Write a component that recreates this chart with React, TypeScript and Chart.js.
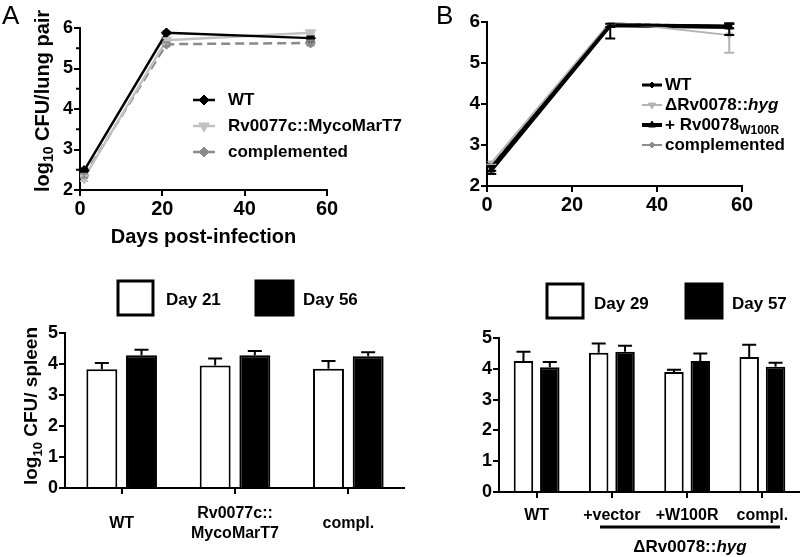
import React, { useEffect, useRef } from "react";
import { Chart, registerables } from "chart.js";
import { drawPoint } from "chart.js/helpers";

Chart.register(...registerables);

const FAMILY = "'Liberation Sans', Arial, Helvetica, sans-serif";

// ---------- Panel A (lung, line) ----------
const daysA = [1, 21, 56];
const wtA = [2.48, 5.88, 5.75];
const rv0077A = [2.3, 5.7, 5.88];
const complA = [2.35, 5.6, 5.63];
const wtAErr = [0.05, 0.03, 0.06];
const rv0077AErr = [0.08, 0.05, 0.04];
const complAErr = [0.05, 0.05, 0.06];
const xTicksLine = [0, 20, 40, 60];

// ---------- Panel B (lung, line) ----------
const daysB = [1, 29, 57];
const wtB = [2.45, 5.93, 5.9];
const rv0078B = [2.56, 6.0, 5.68];
const w100rB = [2.39, 5.92, 5.88];
const complB = [2.5, 5.96, 5.9];
const wtBLo = [0.08, 0.33, 0.05];
const wtBHi = [0.08, 0, 0.05];
const rv0078BLo = [0.04, 0.05, 0.43];
const w100rBLo = [0.1, 0.04, 0.2];
const w100rBHi = [0.1, 0.04, 0.09];

// ---------- Panel A (spleen, bar) ----------
const barCatsA = ["WT", ["Rv0077c::", "MycoMarT7"], "compl."];
const day21A = [3.83, 3.95, 3.85];
const day21AErr = [0.2, 0.23, 0.25];
const day56A = [4.28, 4.28, 4.25];
const day56AErr = [0.18, 0.14, 0.13];

// ---------- Panel B (spleen, bar) ----------
const barCatsB = ["WT", "+vector", "+W100R", "compl."];
const day29B = [4.25, 4.52, 3.9, 4.38];
const day29BErr = [0.3, 0.3, 0.07, 0.4];
const day57B = [4.05, 4.55, 4.25, 4.07];
const day57BErr = [0.17, 0.2, 0.25, 0.13];

type Seg = { t: string; sub?: boolean; italic?: boolean };

function segFont(s: Seg, size: number, bold: boolean) {
  const sz = s.sub ? Math.round(size * 0.68) : size;
  return `${s.italic ? "italic " : ""}${bold ? "bold " : ""}${sz}px ${FAMILY}`;
}

function drawRich(
  ctx: CanvasRenderingContext2D,
  segs: Seg[],
  x: number,
  y: number,
  size: number,
  opts: { align?: string; rotate?: boolean; bold?: boolean; color?: string } = {}
) {
  const { align = "left", rotate = false, bold = true, color = "#000" } = opts;
  ctx.save();
  ctx.fillStyle = color;
  ctx.textBaseline = "middle";
  ctx.textAlign = "left";
  let total = 0;
  const widths = segs.map((s) => {
    ctx.font = segFont(s, size, bold);
    const w = ctx.measureText(s.t).width;
    total += w;
    return w;
  });
  ctx.translate(x, y);
  if (rotate) ctx.rotate(-Math.PI / 2);
  let cx = align === "center" ? -total / 2 : align === "right" ? -total : 0;
  segs.forEach((s, i) => {
    ctx.font = segFont(s, size, bold);
    ctx.fillText(s.t, cx, s.sub ? size * 0.32 : 0);
    cx += widths[i];
  });
  ctx.restore();
}

const errorBarPlugin = {
  id: "errorBars",
  afterDatasetsDraw(chart: any) {
    const ctx = chart.ctx;
    const yScale = chart.scales.y;
    chart.data.datasets.forEach((ds: any, i: number) => {
      if (!ds.errHi && !ds.errLo) return;
      const meta = chart.getDatasetMeta(i);
      ctx.save();
      ctx.strokeStyle = ds.errColor || ds.borderColor;
      ctx.lineWidth = ds.errWidth || 2;
      meta.data.forEach((el: any, j: number) => {
        const raw = ds.data[j];
        const v = typeof raw === "number" ? raw : raw.y;
        const x = el.x;
        const cap = ds.errCap ?? 6;
        const ends: number[] = [];
        if (ds.errHi && ds.errHi[j]) ends.push(v + ds.errHi[j]);
        if (ds.errLo && ds.errLo[j]) ends.push(v - ds.errLo[j]);
        const y0 = yScale.getPixelForValue(v);
        ends.forEach((ev) => {
          const y1 = yScale.getPixelForValue(ev);
          ctx.beginPath();
          ctx.moveTo(x, y0);
          ctx.lineTo(x, y1);
          ctx.moveTo(x - cap, y1);
          ctx.lineTo(x + cap, y1);
          ctx.stroke();
        });
      });
      ctx.restore();
    });
  },
};

function overlay(id: string, draw: (chart: any, ctx: CanvasRenderingContext2D) => void) {
  return {
    id,
    afterDraw(chart: any) {
      draw(chart, chart.ctx);
    },
  };
}

function lineLegend(items: Seg[][], x: number, y0: number, dy: number, len: number, gap: number, size: number) {
  return overlay("lineLegend", (chart, ctx) => {
    items.forEach((segs, i) => {
      const ds: any = chart.data.datasets[i];
      const y = y0 + i * dy;
      ctx.save();
      ctx.strokeStyle = ds.borderColor;
      ctx.lineWidth = ds.borderWidth;
      ctx.beginPath();
      ctx.moveTo(x, y);
      ctx.lineTo(x + len, y);
      ctx.stroke();
      ctx.fillStyle = ds.pointBackgroundColor;
      ctx.strokeStyle = ds.pointBorderColor;
      ctx.lineWidth = 1;
      drawPoint(
        ctx,
        { pointStyle: ds.pointStyle, rotation: ds.pointRotation || 0, radius: ds.pointRadius, borderWidth: 1 } as any,
        x + len / 2,
        y
      );
      ctx.restore();
      drawRich(ctx, segs, x + len + gap, y, size);
    });
  });
}

function boxLegend(boxes: { x: number; y: number; w: number; h: number; tx: number; ty: number; text: string }[], size: number) {
  return overlay("boxLegend", (chart, ctx) => {
    boxes.forEach((b, i) => {
      const ds: any = chart.data.datasets[i];
      ctx.save();
      ctx.fillStyle = ds.backgroundColor;
      ctx.fillRect(b.x, b.y, b.w, b.h);
      ctx.strokeStyle = ds.borderColor;
      ctx.lineWidth = 3;
      ctx.strokeRect(b.x, b.y, b.w, b.h);
      ctx.restore();
      drawRich(ctx, [{ t: b.text }], b.tx, b.ty, size);
    });
  });
}

function minorTicks(step: number, len: number) {
  return overlay("minorTicks", (chart, ctx) => {
    const y = chart.scales.y;
    const left = chart.chartArea.left;
    ctx.save();
    ctx.strokeStyle = "#000";
    ctx.lineWidth = 2;
    for (let v = y.min + step; v < y.max; v += step) {
      if (Math.abs(v - Math.round(v)) < 1e-6) continue;
      const py = y.getPixelForValue(v);
      ctx.beginPath();
      ctx.moveTo(left - len, py);
      ctx.lineTo(left, py);
      ctx.stroke();
    }
    ctx.restore();
  });
}

function axis(fontSize: number, padding: number) {
  return {
    border: { display: true, color: "#000", width: 2 },
    grid: { display: true, drawOnChartArea: false, drawTicks: true, tickLength: 6, color: "#000", lineWidth: 2 },
    ticks: { color: "#000", padding, font: { family: FAMILY, size: fontSize, weight: "bold" } },
  };
}

function pts(xs: number[], ys: number[]) {
  return xs.map((x, i) => ({ x, y: ys[i] }));
}

function lineDs(label: string, data: any, color: string, width: number, style: string, radius: number, extra: any = {}) {
  return {
    label,
    data,
    borderColor: color,
    backgroundColor: color,
    borderWidth: width,
    pointStyle: style,
    pointRadius: radius,
    pointBackgroundColor: color,
    pointBorderColor: color,
    pointBorderWidth: 1,
    tension: 0,
    fill: false,
    ...extra,
  };
}

function makeLineA(canvas: HTMLCanvasElement) {
  return new Chart(canvas, {
    type: "line",
    data: {
      datasets: [
        lineDs("WT", pts(daysA, wtA), "#000000", 2.5, "rectRot", 5, { errHi: wtAErr, errLo: wtAErr, errCap: 4 }),
        lineDs("Rv0077c::MycoMarT7", pts(daysA, rv0077A), "#c2c2c2", 2.5, "triangle", 6, {
          pointRotation: 180,
          errHi: rv0077AErr,
          errLo: rv0077AErr,
          errCap: 4,
        }),
        lineDs("complemented", pts(daysA, complA), "#8a8a8a", 2.5, "rectRot", 5, {
          borderDash: [9, 5],
          errHi: complAErr,
          errLo: complAErr,
          errCap: 4,
        }),
      ] as any,
    },
    options: {
      animation: false,
      responsive: false,
      layout: { padding: { left: 0, top: 28, right: 93, bottom: 0 } },
      scales: {
        x: {
          type: "linear",
          min: 0,
          max: 60,
          ...axis(20, 1),
          ticks: { ...axis(20, 1).ticks, stepSize: 20, callback: (v: any) => (xTicksLine.includes(v) ? String(v) : "") },
          title: {
            display: true,
            text: "Days post-infection",
            color: "#000",
            font: { family: FAMILY, size: 20, weight: "bold" },
            padding: { top: 0, bottom: 1 },
          },
          afterFit: (s: any) => {
            s.height = 60;
          },
        },
        y: {
          min: 2,
          max: 6,
          ...axis(18, 1),
          ticks: { ...axis(18, 1).ticks, stepSize: 1 },
          afterFit: (s: any) => {
            s.width = 80;
          },
        },
      } as any,
      plugins: { legend: { display: false }, tooltip: { enabled: false } },
    },
    plugins: [
      errorBarPlugin,
      minorTicks(0.5, 4),
      lineLegend(
        [[{ t: "WT" }], [{ t: "Rv0077c::MycoMarT7" }], [{ t: "complemented" }]],
        193,
        100,
        26,
        22,
        13,
        17
      ),
      overlay("textsA", (chart, ctx) => {
        drawRich(ctx, [{ t: "A" }], 2, 17, 26, { bold: false });
        drawRich(ctx, [{ t: "log" }, { t: "10", sub: true }, { t: " CFU/lung pair" }], 43, 101, 20, {
          align: "center",
          rotate: true,
        });
      }),
    ] as any,
  });
}

function makeLineB(canvas: HTMLCanvasElement) {
  return new Chart(canvas, {
    type: "line",
    data: {
      datasets: [
        lineDs("WT", pts(daysB, wtB), "#000000", 3, "rectRot", 3, { errHi: wtBHi, errLo: wtBLo, errCap: 5 }),
        lineDs("ΔRv0078::hyg", pts(daysB, rv0078B), "#b3b3b3", 2, "triangle", 4, {
          pointRotation: 180,
          errLo: rv0078BLo,
          errCap: 5,
        }),
        lineDs("+ Rv0078W100R", pts(daysB, w100rB), "#000000", 4, "triangle", 4, {
          errHi: w100rBHi,
          errLo: w100rBLo,
          errCap: 5,
        }),
        lineDs("complemented", pts(daysB, complB), "#8c8c8c", 2, "rectRot", 3, { borderDash: [6, 4] }),
      ] as any,
    },
    options: {
      animation: false,
      responsive: false,
      layout: { padding: { left: 0, top: 22, right: 58, bottom: 0 } },
      scales: {
        x: {
          type: "linear",
          min: 0,
          max: 60,
          ...axis(20, 1),
          ticks: { ...axis(20, 1).ticks, stepSize: 20, callback: (v: any) => (xTicksLine.includes(v) ? String(v) : "") },
          afterFit: (s: any) => {
            s.height = 64;
          },
        },
        y: {
          min: 2,
          max: 6,
          ...axis(19, 1),
          ticks: { ...axis(19, 1).ticks, stepSize: 1 },
          afterFit: (s: any) => {
            s.width = 87;
          },
        },
      } as any,
      plugins: { legend: { display: false }, tooltip: { enabled: false } },
    },
    plugins: [
      errorBarPlugin,
      lineLegend(
        [
          [{ t: "WT" }],
          [{ t: "ΔRv0078::" }, { t: "hyg", italic: true }],
          [{ t: "+ Rv0078" }, { t: "W100R", sub: true }],
          [{ t: "complemented" }],
        ],
        242,
        85,
        20,
        20,
        3,
        17
      ),
      overlay("textsB", (chart, ctx) => {
        drawRich(ctx, [{ t: "B" }], 36, 17, 26, { bold: false });
      }),
    ] as any,
  });
}

function barDs(label: string, data: number[], fill: string, err: number[], cp: number, bp: number) {
  return {
    label,
    data,
    backgroundColor: fill,
    borderColor: "#000",
    borderWidth: 2,
    categoryPercentage: cp,
    barPercentage: bp,
    errHi: err,
    errCap: 7,
    errColor: "#000",
  };
}

function makeBarA(canvas: HTMLCanvasElement) {
  return new Chart(canvas, {
    type: "bar",
    data: {
      labels: barCatsA as any,
      datasets: [
        barDs("Day 21", day21A, "#ffffff", day21AErr, 0.7, 0.78),
        barDs("Day 56", day56A, "#000000", day56AErr, 0.7, 0.78),
      ] as any,
    },
    options: {
      animation: false,
      responsive: false,
      layout: { padding: { left: 0, top: 73, right: 0, bottom: 0 } },
      scales: {
        x: {
          ...axis(16, 20),
          grid: { ...axis(16, 20).grid, offset: false },
          ticks: { ...axis(16, 20).ticks, crossAlign: "center", maxRotation: 0, autoSkip: false },
          afterFit: (s: any) => {
            s.height = 69;
          },
        },
        y: {
          min: 0,
          max: 5,
          ...axis(18, 1),
          ticks: { ...axis(18, 1).ticks, stepSize: 1 },
          afterFit: (s: any) => {
            s.width = 65;
          },
        },
      } as any,
      plugins: { legend: { display: false }, tooltip: { enabled: false } },
    },
    plugins: [
      errorBarPlugin,
      boxLegend(
        [
          { x: 118, y: 21, w: 35, h: 34, tx: 166, ty: 40, text: "Day 21" },
          { x: 256, y: 21, w: 37, h: 34, tx: 303, ty: 40, text: "Day 56" },
        ],
        17
      ),
      overlay("textsBarA", (chart, ctx) => {
        drawRich(ctx, [{ t: "log" }, { t: "10", sub: true }, { t: " CFU/ spleen" }], 32, 146, 19, {
          align: "center",
          rotate: true,
        });
      }),
    ] as any,
  });
}

function makeBarB(canvas: HTMLCanvasElement) {
  return new Chart(canvas, {
    type: "bar",
    data: {
      labels: barCatsB,
      datasets: [
        barDs("Day 29", day29B, "#ffffff", day29BErr, 0.7, 0.74),
        barDs("Day 57", day57B, "#000000", day57BErr, 0.7, 0.74),
      ] as any,
    },
    options: {
      animation: false,
      responsive: false,
      layout: { padding: { left: 0, top: 78, right: 0, bottom: 0 } },
      scales: {
        x: {
          ...axis(16, 8),
          grid: { ...axis(16, 8).grid, offset: false },
          ticks: { ...axis(16, 8).ticks, maxRotation: 0, autoSkip: false },
          afterFit: (s: any) => {
            s.height = 65;
          },
        },
        y: {
          min: 0,
          max: 5,
          ...axis(18, 1),
          ticks: { ...axis(18, 1).ticks, stepSize: 1 },
          afterFit: (s: any) => {
            s.width = 99;
          },
        },
      } as any,
      plugins: { legend: { display: false }, tooltip: { enabled: false } },
    },
    plugins: [
      errorBarPlugin,
      boxLegend(
        [
          { x: 147, y: 24, w: 36, h: 34, tx: 194, ty: 44, text: "Day 29" },
          { x: 286, y: 24, w: 36, h: 34, tx: 332, ty: 44, text: "Day 57" },
        ],
        17
      ),
      overlay("textsBarB", (chart, ctx) => {
        ctx.save();
        ctx.strokeStyle = "#000";
        ctx.lineWidth = 3;
        ctx.beginPath();
        ctx.moveTo(200, 267);
        ctx.lineTo(380, 267);
        ctx.stroke();
        ctx.restore();
        drawRich(ctx, [{ t: "ΔRv0078::" }, { t: "hyg", italic: true }], 290, 287, 17, { align: "center" });
      }),
    ] as any,
  });
}

function ChartBox(props: {
  left: number;
  top: number;
  width: number;
  height: number;
  make: (c: HTMLCanvasElement) => Chart;
}) {
  const ref = useRef<HTMLCanvasElement>(null);
  useEffect(() => {
    const chart = props.make(ref.current!);
    return () => chart.destroy();
  }, []);
  return (
    <canvas
      ref={ref}
      width={props.width}
      height={props.height}
      style={{ position: "absolute", left: props.left, top: props.top, width: props.width, height: props.height }}
    />
  );
}

export default function App() {
  return (
    <div
      style={{
        position: "fixed",
        left: 0,
        top: 0,
        width: 800,
        height: 557,
        background: "#ffffff",
        overflow: "hidden",
      }}
    >
      <ChartBox left={0} top={0} width={420} height={250} make={makeLineA} />
      <ChartBox left={400} top={0} width={400} height={250} make={makeLineB} />
      <ChartBox left={0} top={260} width={405} height={297} make={makeBarA} />
      <ChartBox left={400} top={260} width={400} height={297} make={makeBarB} />
    </div>
  );
}
